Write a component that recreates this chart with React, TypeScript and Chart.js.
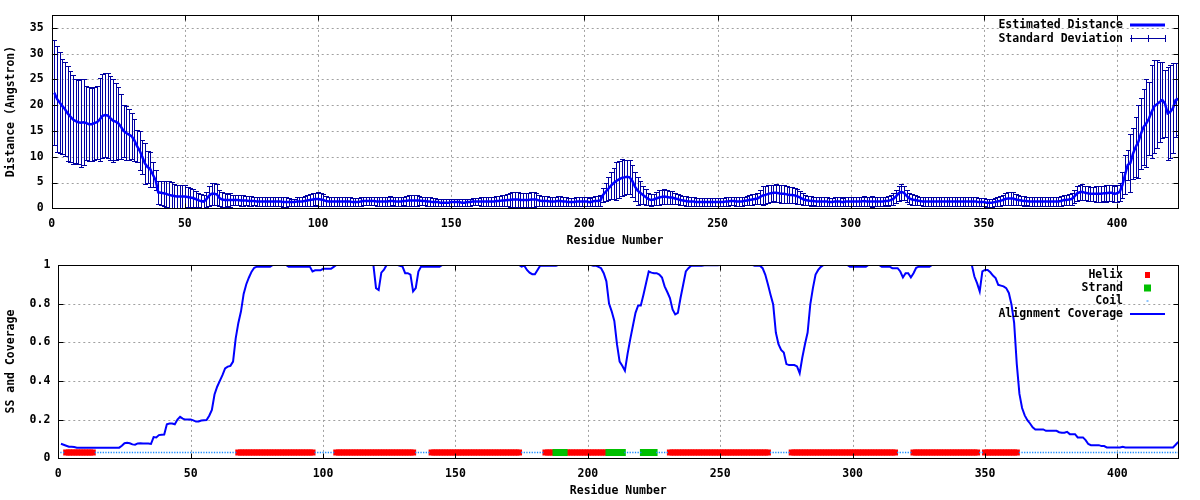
import React, { useEffect, useRef } from "react";
import { Chart, registerables } from "chart.js";

Chart.register(...registerables);

// ---------------- data ----------------
const X_MAX = 423;
const X_TICKS = [0, 50, 100, 150, 200, 250, 300, 350, 400];
const DIST_MAX = 37.5;
const DIST_TICKS = [0, 5, 10, 15, 20, 25, 30, 35];
const COV_TICKS = [0, 0.2, 0.4, 0.6, 0.8, 1];
const SS_LEVEL = 0.03;

// Estimated distance per residue (1..423)
const DISTANCE = [
  22.4, 21.2, 20.5, 19.8, 19.2, 18.4, 17.8, 17.2, 16.9, 16.7,
  16.6, 16.7, 16.5, 16.3, 16.3, 16.5, 16.7, 17.2, 17.9, 18.1,
  18.0, 17.5, 17.0, 16.8, 16.5, 15.8, 15.0, 14.6, 14.3, 14.0,
  13.2, 12.1, 11.2, 10.0, 8.7, 8.0, 7.6, 6.5, 5.5, 3.1,
  3.0, 2.9, 2.8, 2.6, 2.5, 2.4, 2.3, 2.3, 2.3, 2.3,
  2.2, 2.1, 2.0, 1.8, 1.6, 1.4, 1.3, 1.7, 2.4, 2.8,
  2.8, 2.7, 2.0, 1.7, 1.6, 1.6, 1.6, 1.6, 1.6, 1.6,
  1.5, 1.5, 1.5, 1.4, 1.4, 1.4, 1.3, 1.3, 1.3, 1.3,
  1.3, 1.3, 1.3, 1.3, 1.3, 1.3, 1.2, 1.2, 1.2, 1.2,
  1.2, 1.3, 1.3, 1.3, 1.4, 1.5, 1.6, 1.7, 1.8, 1.8,
  1.7, 1.6, 1.4, 1.3, 1.3, 1.3, 1.3, 1.3, 1.3, 1.3,
  1.3, 1.3, 1.2, 1.2, 1.2, 1.3, 1.4, 1.4, 1.4, 1.4,
  1.4, 1.3, 1.3, 1.3, 1.3, 1.3, 1.4, 1.4, 1.3, 1.3,
  1.3, 1.4, 1.4, 1.5, 1.5, 1.5, 1.5, 1.5, 1.4, 1.4,
  1.3, 1.3, 1.2, 1.2, 1.2, 1.1, 1.1, 1.1, 1.1, 1.2,
  1.2, 1.2, 1.2, 1.1, 1.1, 1.2, 1.2, 1.3, 1.3, 1.3,
  1.3, 1.3, 1.3, 1.3, 1.3, 1.3, 1.4, 1.4, 1.5, 1.5,
  1.6, 1.6, 1.7, 1.7, 1.7, 1.6, 1.6, 1.6, 1.6, 1.7,
  1.7, 1.7, 1.5, 1.4, 1.4, 1.4, 1.3, 1.3, 1.3, 1.4,
  1.4, 1.3, 1.3, 1.2, 1.2, 1.2, 1.3, 1.3, 1.3, 1.3,
  1.3, 1.2, 1.3, 1.4, 1.4, 1.5, 2.6, 3.2, 3.8, 4.4,
  4.9, 5.3, 5.6, 5.9, 6.0, 6.1, 6.0, 5.3, 4.2, 3.4,
  3.0, 2.6, 2.2, 1.8, 1.6, 1.7, 1.9, 2.1, 2.2, 2.3,
  2.2, 2.1, 2.1, 1.9, 1.8, 1.6, 1.5, 1.4, 1.3, 1.3,
  1.3, 1.2, 1.2, 1.2, 1.2, 1.2, 1.2, 1.2, 1.2, 1.2,
  1.2, 1.2, 1.3, 1.3, 1.4, 1.4, 1.3, 1.3, 1.3, 1.4,
  1.5, 1.6, 1.7, 1.8, 1.9, 2.2, 2.5, 2.6, 2.8, 2.9,
  3.0, 3.0, 2.9, 2.8, 2.8, 2.7, 2.6, 2.6, 2.5, 2.3,
  2.1, 1.8, 1.6, 1.5, 1.4, 1.4, 1.3, 1.3, 1.3, 1.3,
  1.3, 1.2, 1.2, 1.3, 1.3, 1.3, 1.2, 1.3, 1.3, 1.3,
  1.3, 1.3, 1.3, 1.3, 1.4, 1.3, 1.3, 1.3, 1.3, 1.3,
  1.3, 1.3, 1.4, 1.4, 1.6, 1.8, 2.3, 2.9, 3.2, 3.0,
  2.4, 1.9, 1.7, 1.6, 1.5, 1.4, 1.3, 1.3, 1.3, 1.3,
  1.3, 1.3, 1.3, 1.3, 1.3, 1.3, 1.3, 1.3, 1.3, 1.3,
  1.3, 1.3, 1.3, 1.3, 1.3, 1.3, 1.3, 1.2, 1.2, 1.2,
  1.1, 1.1, 1.1, 1.2, 1.3, 1.4, 1.6, 1.8, 1.9, 1.9,
  1.9, 1.7, 1.6, 1.5, 1.4, 1.4, 1.3, 1.3, 1.3, 1.3,
  1.3, 1.3, 1.3, 1.3, 1.3, 1.3, 1.3, 1.3, 1.4, 1.6,
  1.6, 1.7, 1.8, 2.3, 2.9, 3.1, 3.2, 3.0, 2.9, 2.8,
  2.8, 2.8, 2.8, 2.8, 2.9, 2.9, 3.0, 3.0, 2.8, 2.9,
  3.2, 4.5, 6.5, 8.4, 8.8, 10.6, 11.9, 12.9, 14.5, 15.8,
  16.5, 17.4, 18.7, 19.8, 20.2, 20.6, 21.0, 20.3, 18.4, 18.7,
  19.4, 21.0, 21.2,
];

// Standard deviation per residue (1..423)
const STD_DEV = [
  10.2, 10.3, 9.8, 9.2, 9.1, 9.2, 8.9, 8.6, 8.1, 8.2,
  8.5, 8.3, 7.2, 7.2, 7.1, 7.1, 7.1, 8.1, 8.2, 8.2,
  8.2, 8.2, 8.0, 7.5, 7.0, 6.3, 5.0, 5.2, 5.0, 4.5,
  4.1, 3.1, 3.8, 3.3, 3.9, 3.1, 3.4, 2.4, 2.0, 2.2,
  2.3, 2.4, 2.5, 2.6, 2.6, 2.4, 2.3, 2.2, 2.2, 2.2,
  2.0, 1.9, 1.8, 1.6, 1.4, 1.3, 1.2, 1.5, 1.9, 2.2,
  2.1, 2.0, 1.6, 1.5, 1.4, 1.2, 1.3, 1.0, 1.0, 1.0,
  1.0, 1.0, 0.9, 0.9, 0.9, 0.8, 0.9, 0.9, 0.9, 0.9,
  0.9, 0.8, 0.9, 0.9, 0.8, 0.8, 0.9, 0.9, 0.8, 0.7,
  0.7, 0.8, 0.8, 0.9, 0.9, 1.0, 1.1, 1.2, 1.2, 1.3,
  1.3, 1.2, 0.9, 0.8, 0.8, 0.8, 0.8, 0.8, 0.8, 0.8,
  0.8, 0.8, 0.8, 0.8, 0.8, 0.8, 0.8, 0.8, 0.8, 0.8,
  0.8, 0.8, 0.8, 0.8, 0.8, 0.9, 0.9, 0.8, 0.8, 0.8,
  0.8, 0.8, 0.9, 1.0, 1.0, 1.0, 1.0, 0.9, 0.8, 0.8,
  0.8, 0.8, 0.8, 0.8, 0.7, 0.7, 0.7, 0.7, 0.7, 0.7,
  0.7, 0.7, 0.7, 0.7, 0.7, 0.7, 0.7, 0.7, 0.7, 0.7,
  0.8, 0.8, 0.8, 0.8, 0.8, 0.8, 0.9, 1.0, 1.0, 1.1,
  1.2, 1.4, 1.5, 1.5, 1.4, 1.3, 1.3, 1.3, 1.3, 1.4,
  1.4, 1.3, 1.0, 0.9, 0.9, 0.9, 0.8, 0.8, 0.9, 0.9,
  0.9, 0.8, 0.8, 0.8, 0.8, 0.8, 0.8, 0.8, 0.8, 0.9,
  0.9, 0.8, 0.9, 1.0, 1.0, 1.0, 1.4, 1.8, 2.2, 2.6,
  3.0, 3.7, 3.6, 3.6, 3.4, 3.3, 3.3, 3.1, 2.8, 2.7,
  2.2, 1.8, 1.5, 1.2, 1.1, 1.1, 1.3, 1.4, 1.4, 1.4,
  1.4, 1.3, 1.2, 1.1, 1.0, 1.0, 0.9, 0.9, 0.8, 0.8,
  0.8, 0.8, 0.8, 0.8, 0.8, 0.8, 0.8, 0.8, 0.8, 0.8,
  0.8, 0.8, 0.8, 0.8, 0.8, 0.8, 0.8, 0.8, 0.8, 0.8,
  0.9, 0.9, 1.0, 1.0, 1.1, 1.4, 1.8, 1.8, 1.8, 1.7,
  1.6, 1.7, 1.7, 1.7, 1.7, 1.6, 1.6, 1.6, 1.5, 1.4,
  1.2, 1.1, 1.0, 0.9, 0.9, 0.8, 0.8, 0.8, 0.8, 0.8,
  0.8, 0.8, 0.8, 0.8, 0.8, 0.8, 0.8, 0.8, 0.8, 0.8,
  0.8, 0.8, 0.8, 0.8, 0.9, 0.8, 0.8, 1.1, 0.8, 0.8,
  0.8, 0.8, 0.8, 0.9, 1.0, 1.1, 1.2, 1.4, 1.6, 1.3,
  1.2, 1.1, 1.0, 0.9, 0.9, 0.8, 0.8, 0.8, 0.8, 0.8,
  0.8, 0.8, 0.8, 0.8, 0.8, 0.8, 0.8, 0.8, 0.8, 0.8,
  0.8, 0.8, 0.8, 0.8, 0.8, 0.8, 0.8, 0.8, 0.8, 0.8,
  0.8, 0.8, 0.8, 0.8, 0.9, 0.9, 1.0, 1.1, 1.2, 1.2,
  1.2, 1.1, 1.0, 0.9, 0.9, 0.8, 0.8, 0.8, 0.8, 0.8,
  0.8, 0.8, 0.8, 0.8, 0.8, 0.8, 0.8, 0.8, 0.9, 1.0,
  1.0, 1.0, 1.1, 1.3, 1.4, 1.5, 1.5, 1.4, 1.4, 1.4,
  1.4, 1.5, 1.5, 1.5, 1.5, 1.6, 1.6, 1.6, 1.6, 1.6,
  1.8, 2.5, 3.8, 3.0, 5.6, 5.0, 5.8, 7.1, 6.8, 7.4,
  8.5, 7.1, 9.0, 9.0, 8.6, 7.8, 7.4, 6.5, 9.0, 9.0,
  8.7, 7.1, 7.0,
];

// Alignment coverage per residue (1..423)
const COVERAGE = [
  0.075, 0.07, 0.065, 0.06, 0.06, 0.058, 0.055, 0.055, 0.055, 0.055,
  0.055, 0.055, 0.055, 0.055, 0.055, 0.055, 0.055, 0.055, 0.055, 0.055,
  0.055, 0.055, 0.055, 0.065, 0.078, 0.08, 0.078, 0.072, 0.07, 0.077,
  0.078, 0.077, 0.077, 0.076, 0.074, 0.11, 0.108, 0.12, 0.122, 0.123,
  0.176, 0.18, 0.18, 0.176, 0.2, 0.214, 0.205, 0.2, 0.2, 0.2,
  0.196, 0.19, 0.19, 0.195, 0.197, 0.198, 0.22, 0.25, 0.33, 0.37,
  0.4, 0.43, 0.465, 0.474, 0.478, 0.5, 0.62, 0.7, 0.76, 0.85,
  0.9, 0.935, 0.965, 0.985, 0.991, 0.991, 0.991, 0.991, 0.991, 0.991,
  1, 1, 1, 1, 1, 1, 0.991, 0.991, 0.991, 0.991,
  0.991, 0.991, 0.991, 0.991, 0.991, 0.966, 0.972, 0.972, 0.972, 0.98,
  0.98, 0.98, 0.98, 0.99, 1, 1, 1, 1, 1, 1,
  1, 1, 1, 1, 1, 1, 1, 1, 1, 0.88,
  0.87, 0.96, 0.975, 1, 1, 1, 1, 1, 0.995, 0.991,
  0.957, 0.957, 0.95, 0.863, 0.88, 0.966, 0.991, 0.991, 0.991, 0.991,
  0.991, 0.991, 0.991, 0.991, 1, 1, 1, 1, 1, 1,
  1, 1, 1, 1, 1, 1, 1, 1, 1, 1,
  1, 1, 1, 1, 1, 1, 1, 1, 1, 1,
  1, 1, 1, 1, 0.991, 0.996, 0.974, 0.96, 0.952, 0.952,
  0.974, 0.996, 0.996, 0.996, 0.996, 0.996, 0.996, 0.996, 1, 1,
  1, 1, 1, 1, 1, 1, 1, 1, 1, 1,
  1, 0.996, 0.996, 0.99, 0.983, 0.957, 0.915, 0.8, 0.76, 0.71,
  0.59, 0.5, 0.479, 0.453, 0.54, 0.615, 0.684, 0.752, 0.79, 0.79,
  0.846, 0.906, 0.966, 0.96, 0.957, 0.957, 0.95, 0.935, 0.889, 0.86,
  0.829, 0.77, 0.744, 0.752, 0.829, 0.897, 0.966, 0.983, 0.996, 0.996,
  0.996, 0.996, 0.996, 0.998, 0.998, 0.998, 0.998, 0.998, 0.998, 1,
  1, 1, 1, 1, 1, 1, 1, 1, 1, 1,
  1, 1, 0.996, 0.996, 0.996, 0.983, 0.95, 0.9, 0.846, 0.795,
  0.65, 0.59, 0.56, 0.547, 0.487, 0.482, 0.482, 0.482, 0.475, 0.44,
  0.521, 0.59, 0.65, 0.795, 0.88, 0.95, 0.974, 0.99, 1, 1,
  1, 1, 1, 1, 1, 1, 1, 1, 0.991, 0.991,
  0.991, 0.991, 0.991, 0.991, 0.991, 1, 1, 1, 1, 1,
  0.991, 0.991, 0.991, 0.991, 0.983, 0.983, 0.983, 0.966, 0.935, 0.957,
  0.957, 0.935, 0.957, 0.985, 0.991, 0.991, 0.991, 0.991, 0.991, 1,
  1, 1, 1, 1, 1, 1, 1, 1, 1, 1,
  1, 1, 1, 1, 1, 0.94, 0.906, 0.863, 0.966, 0.974,
  0.974, 0.962, 0.945, 0.932, 0.897, 0.893, 0.889, 0.88, 0.855, 0.795,
  0.7, 0.487, 0.333, 0.26, 0.222, 0.197, 0.18, 0.16, 0.149, 0.149,
  0.149, 0.149, 0.142, 0.142, 0.142, 0.142, 0.142, 0.135, 0.132, 0.132,
  0.137, 0.125, 0.125, 0.125, 0.108, 0.108, 0.108, 0.094, 0.074, 0.068,
  0.068, 0.068, 0.068, 0.063, 0.063, 0.056, 0.056, 0.056, 0.056, 0.056,
  0.056, 0.06, 0.056, 0.056, 0.056, 0.056, 0.056, 0.056, 0.056, 0.056,
  0.056, 0.056, 0.056, 0.056, 0.056, 0.056, 0.056, 0.056, 0.056, 0.056,
  0.056, 0.07, 0.085,
];

// Secondary structure segments [first residue, last residue]
const HELIX_SEGMENTS = [
  [3, 13], [68, 96], [105, 134], [141, 174], [184, 187], [192, 207],
  [231, 268], [277, 316], [323, 347], [350, 362],
];
const STRAND_SEGMENTS = [[188, 191], [208, 213], [221, 225]];

const TOP_LEGEND = ["Estimated Distance", "Standard Deviation"];
const BOTTOM_LEGEND = ["Helix", "Strand", "Coil", "Alignment Coverage"];

// ---------------- styling ----------------
const FONT_FAMILY = "'DejaVu Sans Mono', 'Liberation Mono', monospace";
const FONT_SIZE = 11.5;
const CSS_FONT = `bold ${FONT_SIZE}px ${FONT_FAMILY}`;
const TICK_FONT = { family: FONT_FAMILY, size: FONT_SIZE, weight: "bold" as const };

const LINE_BLUE = "#0000ff";
const BAR_NAVY = "#0000a0";
const HELIX_RED = "#ff0000";
const STRAND_GREEN = "#00c000";
const COIL_BLUE = "#1a8cff";
const GRID_GRAY = "#a0a0a0";

const crisp = (v: number) => Math.round(v) + 0.5;

function ssType(r: number): string {
  for (const [a, b] of HELIX_SEGMENTS) if (r >= a && r <= b) return "H";
  for (const [a, b] of STRAND_SEGMENTS) if (r >= a && r <= b) return "E";
  return "C";
}

function drawGrid(chart: any) {
  const { ctx, chartArea: a, scales } = chart;
  ctx.save();
  ctx.strokeStyle = GRID_GRAY;
  ctx.lineWidth = 1;
  ctx.setLineDash([2, 3]);
  for (const t of scales.x.ticks) {
    const px = crisp(scales.x.getPixelForValue(t.value));
    if (px <= a.left + 1 || px >= a.right - 1) continue;
    ctx.beginPath();
    ctx.moveTo(px, a.top);
    ctx.lineTo(px, a.bottom);
    ctx.stroke();
  }
  for (const t of scales.y.ticks) {
    const py = crisp(scales.y.getPixelForValue(t.value));
    if (py <= a.top + 1 || py >= a.bottom - 1) continue;
    ctx.beginPath();
    ctx.moveTo(a.left, py);
    ctx.lineTo(a.right, py);
    ctx.stroke();
  }
  ctx.restore();
}

function drawFrame(chart: any) {
  const { ctx, chartArea: a, scales } = chart;
  ctx.save();
  ctx.strokeStyle = "#000";
  ctx.lineWidth = 1;
  ctx.setLineDash([]);
  const L = crisp(a.left), R = crisp(a.right), T = crisp(a.top), B = crisp(a.bottom);
  ctx.strokeRect(L, T, R - L, B - T);
  const tl = 5;
  ctx.beginPath();
  for (const t of scales.x.ticks) {
    const px = crisp(scales.x.getPixelForValue(t.value));
    ctx.moveTo(px, B);
    ctx.lineTo(px, B - tl);
    ctx.moveTo(px, T);
    ctx.lineTo(px, T + tl);
  }
  for (const t of scales.y.ticks) {
    const py = crisp(scales.y.getPixelForValue(t.value));
    ctx.moveTo(L, py);
    ctx.lineTo(L + tl, py);
    ctx.moveTo(R, py);
    ctx.lineTo(R - tl, py);
  }
  ctx.stroke();
  ctx.restore();
}

function legendText(ctx: CanvasRenderingContext2D, text: string, xRight: number, y: number) {
  ctx.fillStyle = "#000";
  ctx.font = CSS_FONT;
  ctx.textAlign = "right";
  ctx.textBaseline = "middle";
  ctx.fillText(text, xRight, y);
}

const topPlugin = {
  id: "topDecor",
  beforeDatasetsDraw(chart: any) {
    drawGrid(chart);
    const { ctx, chartArea: a, scales } = chart;
    ctx.save();
    ctx.beginPath();
    ctx.rect(a.left, a.top, a.right - a.left, a.bottom - a.top);
    ctx.clip();
    ctx.strokeStyle = BAR_NAVY;
    ctx.lineWidth = 1;
    ctx.beginPath();
    DISTANCE.forEach((d, i) => {
      const x = scales.x.getPixelForValue(i + 1);
      const xc = crisp(x);
      const yTop = crisp(scales.y.getPixelForValue(d + STD_DEV[i]));
      const yBot = crisp(scales.y.getPixelForValue(d - STD_DEV[i]));
      ctx.moveTo(xc, yTop);
      ctx.lineTo(xc, yBot);
      ctx.moveTo(xc - 2.5, yTop);
      ctx.lineTo(xc + 2.5, yTop);
      ctx.moveTo(xc - 2.5, yBot);
      ctx.lineTo(xc + 2.5, yBot);
    });
    ctx.stroke();
    ctx.restore();
  },
  afterDatasetsDraw(chart: any) {
    drawFrame(chart);
    const { ctx } = chart;
    ctx.save();
    const xr = 1123;
    const s0 = 1130, s1 = 1165;
    legendText(ctx, TOP_LEGEND[0], xr, 25);
    ctx.strokeStyle = LINE_BLUE;
    ctx.lineWidth = 3;
    ctx.beginPath();
    ctx.moveTo(s0, 25);
    ctx.lineTo(s1, 25);
    ctx.stroke();
    legendText(ctx, TOP_LEGEND[1], xr, 39);
    ctx.strokeStyle = BAR_NAVY;
    ctx.lineWidth = 1;
    ctx.beginPath();
    ctx.moveTo(s0, 38.5);
    ctx.lineTo(s1, 38.5);
    for (const x of [s0 + 0.5, (s0 + s1) / 2 + 0.5, s1 - 0.5]) {
      ctx.moveTo(crisp(x), 35);
      ctx.lineTo(crisp(x), 42);
    }
    ctx.stroke();
    ctx.restore();
  },
};

const bottomPlugin = {
  id: "bottomDecor",
  beforeDatasetsDraw(chart: any) {
    drawGrid(chart);
  },
  afterDatasetsDraw(chart: any) {
    drawFrame(chart);
    const { ctx } = chart;
    ctx.save();
    const xr = 1123;
    const s0 = 1130, s1 = 1165, sc = 1147.5;
    const rows = [25, 38, 51, 64];
    legendText(ctx, BOTTOM_LEGEND[0], xr, rows[0]);
    ctx.fillStyle = HELIX_RED;
    ctx.fillRect(sc - 2.5, rows[0] - 3, 5, 6);
    legendText(ctx, BOTTOM_LEGEND[1], xr, rows[1]);
    ctx.fillStyle = STRAND_GREEN;
    ctx.fillRect(sc - 3.5, rows[1] - 3.5, 7, 7);
    legendText(ctx, BOTTOM_LEGEND[2], xr, rows[2]);
    ctx.fillStyle = COIL_BLUE;
    ctx.fillRect(sc - 1, rows[2] - 0.5, 2, 1);
    legendText(ctx, BOTTOM_LEGEND[3], xr, rows[3]);
    ctx.strokeStyle = LINE_BLUE;
    ctx.lineWidth = 2;
    ctx.beginPath();
    ctx.moveTo(s0, rows[3]);
    ctx.lineTo(s1, rows[3]);
    ctx.stroke();
    ctx.restore();
  },
};

function xScale(titleText: string) {
  return {
    type: "linear" as const,
    min: 0,
    max: X_MAX,
    afterBuildTicks: (s: any) => {
      s.ticks = X_TICKS.map((v) => ({ value: v }));
    },
    afterFit: (s: any) => {
      s.height = 41.7;
    },
    grid: { display: false, drawTicks: false },
    border: { display: false },
    ticks: {
      font: TICK_FONT,
      color: "#000",
      padding: 9,
      maxRotation: 0,
      autoSkip: false,
      callback: (v: any) => String(v),
    },
    title: {
      display: true,
      text: titleText,
      font: TICK_FONT,
      color: "#000",
      padding: { top: 0, bottom: 2.4 },
    },
  };
}

function yScale(max: number, ticks: number[], width: number, titleText: string) {
  return {
    type: "linear" as const,
    min: 0,
    max,
    afterBuildTicks: (s: any) => {
      s.ticks = ticks.map((v) => ({ value: v }));
    },
    afterFit: (s: any) => {
      s.width = width;
    },
    grid: { display: false, drawTicks: false },
    border: { display: false },
    ticks: {
      font: TICK_FONT,
      color: "#000",
      padding: 8,
      autoSkip: false,
      callback: (v: any) => String(v),
    },
    title: {
      display: true,
      text: titleText,
      font: TICK_FONT,
      color: "#000",
      padding: { top: 4, bottom: 0 },
    },
  };
}

function DistanceChart() {
  const ref = useRef<HTMLCanvasElement | null>(null);
  useEffect(() => {
    if (!ref.current) return;
    const chart = new Chart(ref.current, {
      type: "scatter",
      data: {
        datasets: [
          {
            label: TOP_LEGEND[0],
            data: DISTANCE.map((d, i) => ({ x: i + 1, y: d })),
            showLine: true,
            borderColor: LINE_BLUE,
            backgroundColor: LINE_BLUE,
            borderWidth: 2.5,
            pointRadius: 0,
            tension: 0,
          },
        ],
      },
      options: {
        animation: false,
        responsive: false,
        devicePixelRatio: 1,
        events: [],
        layout: { padding: { top: 14.3, right: 21.7, left: 0, bottom: 0 } },
        plugins: { legend: { display: false }, tooltip: { enabled: false } },
        scales: {
          x: xScale("Residue Number"),
          y: yScale(DIST_MAX, DIST_TICKS, 51.7, "Distance (Angstron)"),
        },
      },
      plugins: [topPlugin],
    });
    return () => chart.destroy();
  }, []);
  return <canvas ref={ref} width={1200} height={250} style={{ display: "block" }} />;
}

function CoverageChart() {
  const ref = useRef<HTMLCanvasElement | null>(null);
  useEffect(() => {
    if (!ref.current) return;
    const residues = COVERAGE.map((_, i) => i + 1);
    const ssOf = residues.map((r) => ssType(r));
    const chart = new Chart(ref.current, {
      type: "scatter",
      data: {
        datasets: [
          {
            label: BOTTOM_LEGEND[3],
            data: COVERAGE.map((v, i) => ({ x: i + 1, y: v })),
            showLine: true,
            borderColor: LINE_BLUE,
            backgroundColor: LINE_BLUE,
            borderWidth: 2,
            pointRadius: 0,
            tension: 0,
          },
          {
            label: BOTTOM_LEGEND[2],
            data: residues.filter((r, i) => ssOf[i] === "C").map((r) => ({ x: r, y: SS_LEVEL })),
            pointStyle: "rect",
            pointRadius: 0.9,
            borderWidth: 0,
            backgroundColor: COIL_BLUE,
            borderColor: COIL_BLUE,
          },
          {
            label: BOTTOM_LEGEND[1],
            data: residues.filter((r, i) => ssOf[i] === "E").map((r) => ({ x: r, y: SS_LEVEL })),
            pointStyle: "rect",
            pointRadius: 5,
            borderWidth: 0,
            backgroundColor: STRAND_GREEN,
            borderColor: STRAND_GREEN,
          },
          {
            label: BOTTOM_LEGEND[0],
            data: residues.filter((r, i) => ssOf[i] === "H").map((r) => ({ x: r, y: SS_LEVEL })),
            pointStyle: "rect",
            pointRadius: 4.3,
            borderWidth: 0,
            backgroundColor: HELIX_RED,
            borderColor: HELIX_RED,
          },
        ],
      },
      options: {
        animation: false,
        responsive: false,
        devicePixelRatio: 1,
        events: [],
        layout: { padding: { top: 13.3, right: 21.7, left: 0, bottom: 0 } },
        plugins: { legend: { display: false }, tooltip: { enabled: false } },
        scales: {
          x: xScale("Residue Number"),
          y: yScale(1, COV_TICKS, 58.3, "SS and Coverage"),
        },
      },
      plugins: [bottomPlugin],
    });
    return () => chart.destroy();
  }, []);
  return <canvas ref={ref} width={1200} height={250} style={{ display: "block" }} />;
}

export default function App() {
  return (
    <div
      style={{
        position: "absolute",
        left: 0,
        top: 0,
        width: 1200,
        height: 500,
        background: "#ffffff",
        overflow: "hidden",
      }}
    >
      <div style={{ position: "absolute", left: 0, top: 0, width: 1200, height: 250 }}>
        <DistanceChart />
      </div>
      <div style={{ position: "absolute", left: 0, top: 250, width: 1200, height: 250 }}>
        <CoverageChart />
      </div>
    </div>
  );
}
